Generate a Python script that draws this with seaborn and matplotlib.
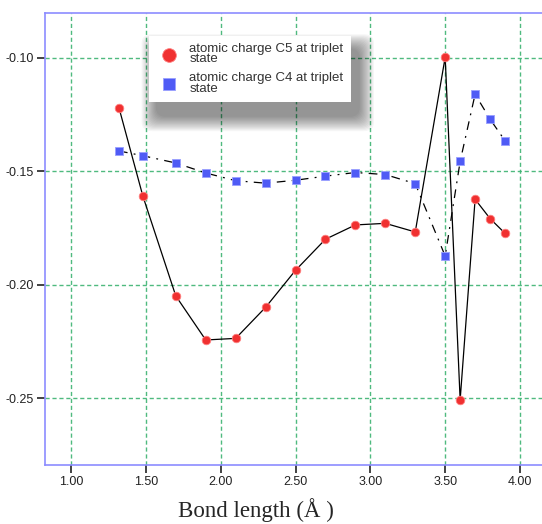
import numpy as np
import matplotlib
matplotlib.use('Agg')
import matplotlib.pyplot as plt
from matplotlib.patches import FancyBboxPatch
import pandas as pd
import seaborn as sns

# bond length (angstrom)
bond_c5 = [1.32, 1.48, 1.70, 1.90, 2.10, 2.30, 2.50, 2.70, 2.90, 3.10, 3.30, 3.50, 3.60, 3.70, 3.80, 3.90]
charge_c5 = [-0.122, -0.161, -0.205, -0.2244, -0.2237, -0.210, -0.1937, -0.180, -0.1737, -0.1730, -0.1768, -0.0998, -0.2508, -0.1624, -0.1709, -0.1774]

bond_c4 = [1.32, 1.48, 1.70, 1.90, 2.10, 2.30, 2.50, 2.70, 2.90, 3.10, 3.30, 3.50, 3.60, 3.70, 3.80, 3.90]
charge_c4 = [-0.1411, -0.1432, -0.1464, -0.1508, -0.1542, -0.1553, -0.1540, -0.1522, -0.1506, -0.1515, -0.1555, -0.1874, -0.1457, -0.1161, -0.1271, -0.1366]

xticks = [1.0, 1.5, 2.0, 2.5, 3.0, 3.5, 4.0]
yticks = [-0.10, -0.15, -0.20, -0.25]

label_c5 = 'atomic charge C5 at triplet\nstate'
label_c4 = 'atomic charge C4 at triplet\nstate'

df5 = pd.DataFrame({'x': bond_c5, 'y': charge_c5})
df4 = pd.DataFrame({'x': bond_c4, 'y': charge_c4})

sns.set_style('white')
plt.rcParams['font.family'] = ['Liberation Sans', 'DejaVu Sans']

fig = plt.figure(figsize=(5.42, 5.24), dpi=100)
ax = fig.add_axes([45/542, 59/524, 500/542, 452/524])

# lines
sns.lineplot(data=df5, x='x', y='y', ax=ax, color='black', lw=0.9, sort=False, legend=False)
sns.lineplot(data=df4, x='x', y='y', ax=ax, color='black', lw=0.9, sort=False, legend=False,
             linestyle=(0, (7, 5, 1.5, 5)))

# markers
sns.scatterplot(data=df5, x='x', y='y', ax=ax, marker='o', s=38, color='#f03030',
                edgecolor='#ff8080', linewidth=0.6, label=label_c5, zorder=3)
sns.scatterplot(data=df4, x='x', y='y', ax=ax, marker='s', s=34, color='#4f5bf5',
                edgecolor='#9aa0ff', linewidth=0.6, label=label_c4, zorder=3)

ax.set_xlim(0.826, 4.167)
ax.set_ylim(-0.2795, -0.0803)
ax.set_xticks(xticks)
ax.set_xticklabels(['%.2f' % t for t in xticks])
ax.set_yticks(yticks)
ax.set_yticklabels(['%.2f' % t for t in yticks])
ax.set_xlabel('')
ax.set_ylabel('')

ax.grid(True, color='#3cb371', linestyle=(0, (3, 2)), lw=1.0, alpha=0.9)
ax.set_axisbelow(True)
for side in ['left', 'bottom', 'top', 'right']:
    ax.spines[side].set_color('#8c8cff')
    ax.spines[side].set_linewidth(1.2)

ax.tick_params(axis='both', which='major', direction='out', length=6, width=1.2,
               color='#222222', labelsize=9, labelcolor='#222222', bottom=True, left=True, pad=2)

leg = ax.legend(loc='upper left', bbox_to_anchor=(0.208, 0.95), fontsize=9.5, frameon=True,
                fancybox=False, shadow=False, borderpad=0.55, borderaxespad=0,
                handletextpad=0.5, labelspacing=0.55, markerscale=1.6, framealpha=1)
leg.get_frame().set_edgecolor('white')
leg.get_frame().set_linewidth(0)
leg.set_zorder(10)
for t in leg.get_texts():
    t.set_color('#333333')
    t.set_linespacing(0.8)

# soft drop shadow under the legend
fig.canvas.draw()
bb = leg.get_window_extent(fig.canvas.get_renderer())
inv = ax.transAxes.inverted()
(x0, y0), (x1, y1) = inv.transform([(bb.x0, bb.y0), (bb.x1, bb.y1)])
px = 1.0 / 500
py = 1.0 / 452
for k in range(14):
    g = (14 - k) * 1.1
    ax.add_patch(FancyBboxPatch((x0 + 8*px - g*px, y0 - 14*py - g*py),
                                (x1 - x0) + 2*g*px, (y1 - y0) + 2*g*py,
                                boxstyle='round,pad=0,rounding_size=0.02',
                                transform=ax.transAxes, facecolor='black', edgecolor='none',
                                alpha=0.035, zorder=9))

fig.text(256/542, 14/524, 'Bond length (Å )', family='Liberation Serif', fontsize=16.5,
         ha='center', va='center')

fig.savefig('out.png', dpi=100)
